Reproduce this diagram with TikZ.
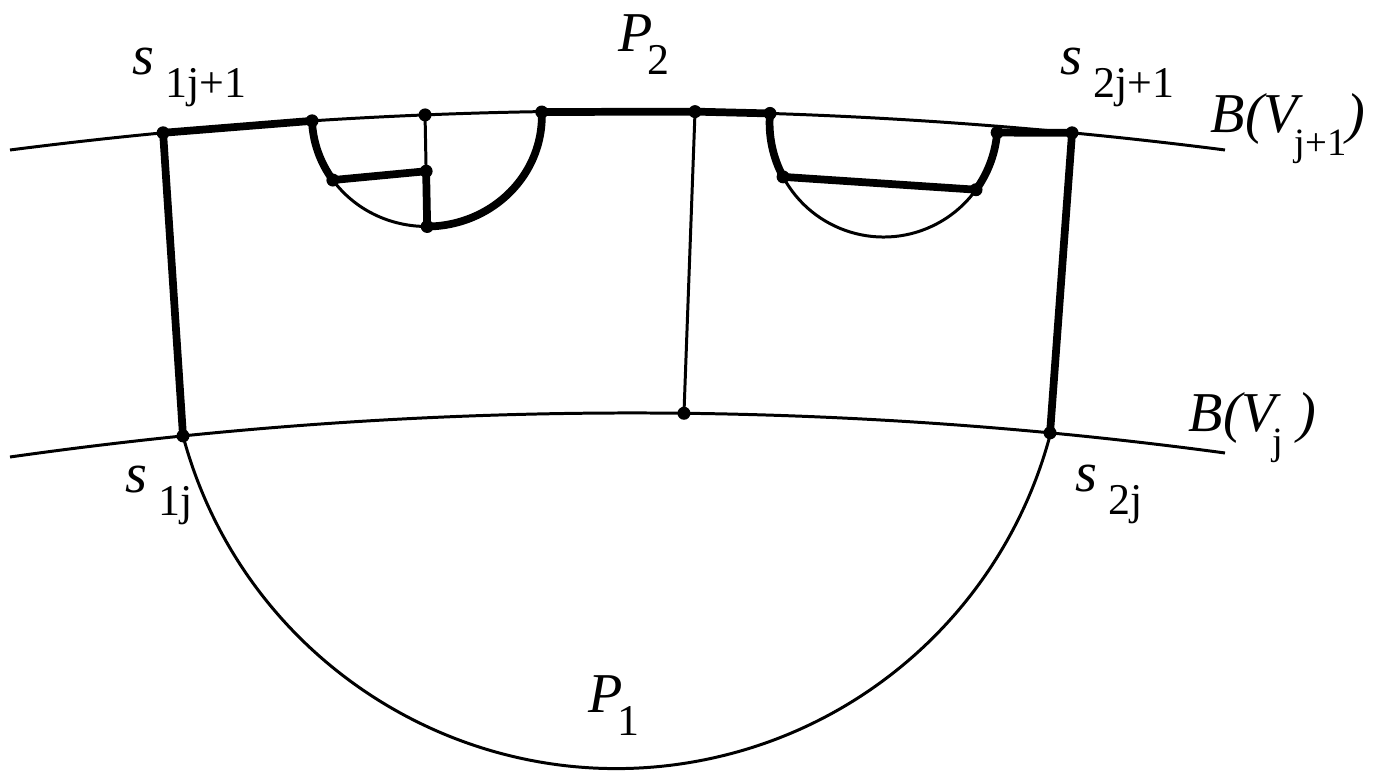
\documentclass[tikz,border=0pt]{standalone}
\usepackage{fontspec}
\setmainfont{Liberation Serif}
\usetikzlibrary{calc}
\newcommand{\mainsz}{\fontsize{16}{16}\selectfont}
\newcommand{\subsz}{\fontsize{12.5}{12.5}\selectfont}
\newcommand{\smsz}{\fontsize{11}{11}\selectfont}
\newcommand{\slbl}[2]{\textit{#1}\hspace{3pt}\raisebox{-6.5pt}{\subsz #2}}
\newcommand{\plbl}[1]{\textit{P}\hspace{-1.5pt}\raisebox{-6.5pt}{\subsz #1}}
\newcommand{\bvlbl}[2]{\textit{B(V}\hspace{-2.5pt}\raisebox{-6.5pt}{\smsz #1}#2\textit{)}}

\begin{document}
\begin{tikzpicture}[line join=round,
    thinline/.style={line width=0.85pt},
    boldline/.style={line width=2.2pt},
    lbl/.style={anchor=base west, inner sep=0pt, font=\mainsz}]
  \useasboundingbox (0,0) rectangle (13.89,7.71);
  % level curves
  \draw[thinline] (0.10,6.21) .. controls (4.15,6.73) and (8.20,6.73) .. (12.25,6.21)
    coordinate[pos=0.126] (s1jp) coordinate[pos=0.2486] (a1) coordinate[pos=0.3416] (t1)
    coordinate[pos=0.5638] (m2) coordinate[pos=0.6255] (a3) coordinate[pos=0.8741] (s2jp);
  \draw[thinline] (0.10,3.14) .. controls (4.15,3.713) and (8.20,3.727) .. (12.25,3.18)
    coordinate[pos=0.1424] (s1j) coordinate[pos=0.5547] (m1) coordinate[pos=0.856] (s2j);
  % big arc P1
  \draw[thinline] (s1j) arc[start angle=195, end angle=345, radius=4.487];
  % sides
  \draw[boldline] (s1jp) -- (s1j);
  \draw[boldline] (s2jp) -- (s2j);
  \draw[thinline] (m2) -- (m1);
  \draw[boldline] (s1jp) -- (a1);
  % left small arc
  \draw[boldline, rotate=2.24] (a1) arc[start angle=180, end angle=213, x radius=1.15, y radius=1.10] coordinate (l1);
  \draw[thinline, rotate=2.24] (l1) arc[start angle=213, end angle=268, x radius=1.15, y radius=1.10] coordinate (b1);
  \draw[boldline, rotate=2.24] (b1) arc[start angle=268, end angle=360, x radius=1.15, y radius=1.10] coordinate (a2);
  \coordinate (k1) at ($(t1)!0.505!(b1)$);
  \draw[thinline] (t1) -- (k1);
  \draw[boldline] (k1) -- (b1);
  \draw[boldline] (l1) -- (k1);
  \draw[boldline] (a2) -- (m2) -- (a3);
  % right small arc
  \draw[boldline, rotate=-4.8] (a3) arc[start angle=180, end angle=213, radius=1.14] coordinate (r1);
  \draw[thinline, rotate=-4.8] (r1) arc[start angle=213, end angle=329, radius=1.14] coordinate (r2);
  \draw[boldline, rotate=-4.8] (r2) arc[start angle=329, end angle=360, radius=1.14] coordinate (a4);
  \draw[boldline] (r1) -- (r2);
  \draw[boldline] (a4) -- (s2jp);
  % dots
  \foreach \p in {s1jp,a1,t1,a2,m2,a3,a4,s2jp,l1,k1,b1,r1,r2,s1j,m1,s2j}
    \fill (\p) circle (0.065);
  % labels
  \node[lbl] (ls1jp) at (1.32,6.96) {\slbl{s}{1j+1}};
  \node[lbl] (lp2) at (6.18,7.19) {\plbl{2}};
  \node[lbl] (ls2jp) at (10.60,6.96) {\slbl{s}{2j+1}};
  \node[lbl] (lbv2) at (12.10,6.38) {\bvlbl{j+1}{}};
  \node[lbl] (lbv1) at (11.88,3.39) {\bvlbl{j}{\hspace{4pt}}};
  \node[lbl] (ls2j) at (10.75,2.79) {\slbl{s}{2j}};
  \node[lbl] (ls1j) at (1.25,2.78) {\slbl{s}{1j}};
  \node[lbl] (lp1) at (5.88,0.58) {\plbl{1}};
\end{tikzpicture}
\end{document}
